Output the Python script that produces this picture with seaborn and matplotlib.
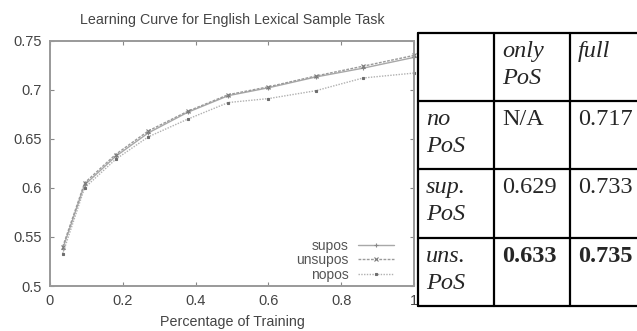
import matplotlib
matplotlib.use("Agg")
import matplotlib.pyplot as plt
from matplotlib.lines import Line2D
from matplotlib.patches import Rectangle
import seaborn as sns
import pandas as pd

# Learning-curve data: fraction of training data vs. accuracy
train_frac = [0.035, 0.095, 0.18, 0.27, 0.378, 0.49, 0.6, 0.73, 0.86, 1.0]
supos = [0.538, 0.603, 0.632, 0.656, 0.677, 0.694, 0.702, 0.713, 0.722, 0.733]
unsupos = [0.540, 0.605, 0.634, 0.658, 0.678, 0.695, 0.703, 0.714, 0.724, 0.735]
nopos = [0.533, 0.600, 0.629, 0.652, 0.670, 0.687, 0.691, 0.699, 0.712, 0.717]

x_ticks = [0, 0.2, 0.4, 0.6, 0.8, 1]
x_tick_labels = ["0", "0.2", "0.4", "0.6", "0.8", "1"]
y_ticks = [0.5, 0.55, 0.6, 0.65, 0.7, 0.75]
y_tick_labels = ["0.5", "0.55", "0.6", "0.65", "0.7", "0.75"]

# Summary table
table_cols = ["only\nPoS", "full"]
table_rows = ["no\nPoS", "sup.\nPoS", "uns.\nPoS"]
table_only = ["N/A", "0.629", "0.633"]
table_full = ["0.717", "0.733", "0.735"]
table_bold = [False, False, True]

sns.set_theme(style="ticks")
plt.rcParams["font.family"] = ["Liberation Sans", "DejaVu Sans"]

W, H = 637, 331
fig = plt.figure(figsize=(W / 100, H / 100), dpi=100)
fig.patch.set_facecolor("white")

ax_l, ax_r, ax_t, ax_b = 50, 414, 40.7, 286
ax = fig.add_axes([ax_l / W, 1 - ax_b / H, (ax_r - ax_l) / W, (ax_b - ax_t) / H])

df = pd.DataFrame({
    "frac": train_frac * 3,
    "acc": supos + unsupos + nopos,
    "series": ["supos"] * len(train_frac) + ["unsupos"] * len(train_frac) + ["nopos"] * len(train_frac),
})

styles = {
    "supos": dict(color="#a8a8a8", mcolor="#888888", linestyle="-", marker="+", markersize=3.5),
    "unsupos": dict(color="#9a9a9a", mcolor="#7a7a7a", linestyle=(0, (2, 1)), marker="x", markersize=2.8),
    "nopos": dict(color="#b0b0b0", mcolor="#6e6e6e", linestyle=(0, (1, 1)), marker="s", markersize=2.0),
}
for name, st in styles.items():
    sub = df[df["series"] == name]
    sns.lineplot(data=sub, x="frac", y="acc", ax=ax, label=name,
                 color=st["color"], linestyle=st["linestyle"], marker=st["marker"],
                 markersize=st["markersize"], linewidth=1.0,
                 markeredgecolor=st["mcolor"], markerfacecolor=st["mcolor"],
                 markeredgewidth=0.8, clip_on=False)

ax.set_xlim(0, 1)
ax.set_ylim(0.5, 0.75)
ax.set_xticks(x_ticks)
ax.set_xticklabels(x_tick_labels)
ax.set_yticks(y_ticks)
ax.set_yticklabels(y_tick_labels)
ax.tick_params(direction="in", length=3, width=0.8, color="#888888",
               labelsize=10.5, labelcolor="#444444", top=True, right=True, pad=6)
for sp in ax.spines.values():
    sp.set_visible(True)
    sp.set_color("#999999")
    sp.set_linewidth(1.4)

ax.set_xlabel("Percentage of Training", fontsize=10.3, color="#444444", labelpad=5)
ax.set_ylabel("")
ax.set_title("Learning Curve for English Lexical Sample Task", fontsize=10.3,
             color="#444444", pad=12)

leg = ax.legend(loc="lower right", bbox_to_anchor=(0.965, -0.012), frameon=False,
                markerfirst=False, fontsize=10, labelspacing=0.05,
                handlelength=2.6, handletextpad=0.7, borderpad=0)
for t in leg.get_texts():
    t.set_color("#555555")

# Table drawn on top of the right side of the figure
def fx(px):
    return px / W

def fy(py):
    return 1 - py / H

fig.add_artist(Rectangle((fx(417.5), 0), 1 - fx(417.5), 1, transform=fig.transFigure,
                         facecolor="white", edgecolor="none", zorder=5))

col_x = [418, 494, 570]
row_y = [33, 101, 169, 238, 306]
lw = 1.6
for x in col_x:
    fig.add_artist(Line2D([fx(x), fx(x)], [fy(row_y[0]), fy(row_y[-1])],
                          transform=fig.transFigure, color="black", lw=lw, zorder=6))
for y in row_y:
    fig.add_artist(Line2D([fx(col_x[0]), 1.0], [fy(y), fy(y)],
                          transform=fig.transFigure, color="black", lw=lw, zorder=6))

serif = ["Liberation Serif", "DejaVu Serif"]
fs = 17.5
pad_x, pad_y = 8, 8
ls = 1.4

for j, label in enumerate(table_cols):
    fig.text(fx(col_x[j + 1] + pad_x), fy(row_y[0] + pad_y), label, family=serif,
             style="italic", fontsize=fs, va="top", ha="left", linespacing=ls, zorder=7)

for i, label in enumerate(table_rows):
    top = row_y[i + 1] + pad_y
    fig.text(fx(col_x[0] + pad_x), fy(top), label, family=serif, style="italic",
             fontsize=fs, va="top", ha="left", linespacing=ls, zorder=7)
    weight = "bold" if table_bold[i] else "normal"
    fig.text(fx(col_x[1] + pad_x), fy(top), table_only[i], family=serif,
             fontsize=fs, va="top", ha="left", fontweight=weight, zorder=7)
    fig.text(fx(col_x[2] + pad_x), fy(top), table_full[i], family=serif,
             fontsize=fs, va="top", ha="left", fontweight=weight, zorder=7)

fig.savefig("out.png", dpi=100)
